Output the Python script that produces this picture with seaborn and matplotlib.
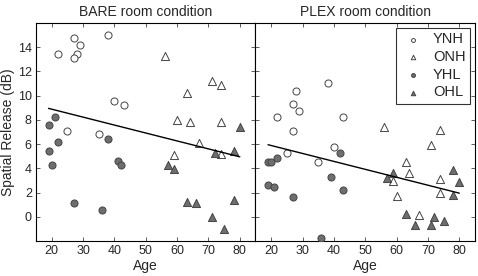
import pandas as pd
import seaborn as sns
import matplotlib.pyplot as plt

# BARE room condition
bare_ynh_age = [22, 27, 29, 28, 27, 38, 40, 43, 25, 35]
bare_ynh_val = [13.4, 14.8, 14.2, 13.4, 13.1, 15.0, 9.6, 9.2, 7.1, 6.8]
bare_onh_age = [56, 63, 71, 74, 60, 64, 74, 59, 67, 74]
bare_onh_val = [13.3, 10.2, 11.2, 10.85, 8.0, 7.8, 7.8, 5.1, 6.1, 5.15]
bare_yhl_age = [19, 21, 38, 19, 20, 22, 27, 36, 41, 42]
bare_yhl_val = [7.6, 8.2, 6.4, 5.4, 4.3, 6.15, 1.1, 0.55, 4.6, 4.3]
bare_ohl_age = [80, 57, 59, 63, 66, 71, 75, 78, 72, 78]
bare_ohl_val = [7.4, 4.25, 3.95, 1.25, 1.1, 0.0, -1.05, 1.4, 5.3, 5.4]
bare_fit_x = [19, 80]
bare_fit_y = [8.95, 4.95]

# PLEX room condition
plex_ynh_age = [22, 27, 28, 29, 27, 38, 43, 25, 35, 40]
plex_ynh_val = [8.2, 9.3, 10.4, 8.7, 7.05, 11.05, 8.2, 5.3, 4.5, 5.8]
plex_onh_age = [56, 74, 71, 63, 64, 59, 60, 74, 74, 67]
plex_onh_val = [7.4, 7.2, 5.9, 4.5, 3.6, 2.95, 1.75, 3.15, 1.95, 0.15]
plex_yhl_age = [19, 20, 22, 19, 21, 27, 42, 39, 43, 36]
plex_yhl_val = [4.55, 4.55, 4.85, 2.6, 2.5, 1.6, 5.25, 3.25, 2.2, -1.75]
plex_ohl_age = [59, 57, 78, 80, 78, 63, 66, 72, 71, 75]
plex_ohl_val = [3.65, 3.2, 3.85, 2.85, 1.8, 0.2, -0.7, 0.0, -0.7, -0.35]
plex_fit_x = [19, 80]
plex_fit_y = [5.95, 1.95]

groups = ["YNH", "ONH", "YHL", "OHL"]

sns.set_theme(style="white")
plt.rcParams["font.family"] = ["Liberation Sans", "DejaVu Sans"]


def make_frame(ynh_a, ynh_v, onh_a, onh_v, yhl_a, yhl_v, ohl_a, ohl_v):
    parts = []
    for g, a, v in zip(groups, [ynh_a, onh_a, yhl_a, ohl_a], [ynh_v, onh_v, yhl_v, ohl_v]):
        parts.append(pd.DataFrame({"Age": a, "Release": v, "Group": g}))
    return pd.concat(parts, ignore_index=True)


bare = make_frame(bare_ynh_age, bare_ynh_val, bare_onh_age, bare_onh_val,
                  bare_yhl_age, bare_yhl_val, bare_ohl_age, bare_ohl_val)
plex = make_frame(plex_ynh_age, plex_ynh_val, plex_onh_age, plex_onh_val,
                  plex_yhl_age, plex_yhl_val, plex_ohl_age, plex_ohl_val)

# marker, face colour, size for each group
styles = {
    "YNH": ("o", "white", 26),
    "ONH": ("^", "white", 34),
    "YHL": ("o", "#6e6e6e", 26),
    "OHL": ("^", "#6e6e6e", 34),
}

fig, axes = plt.subplots(1, 2, figsize=(4.78, 2.76), dpi=100, sharey=True)
fig.subplots_adjust(left=0.0753, right=0.9937, top=0.9167, bottom=0.1268, wspace=0)

panels = [(bare, bare_fit_x, bare_fit_y, "BARE room condition"),
          (plex, plex_fit_x, plex_fit_y, "PLEX room condition")]

for ax, (df, fx, fy, title) in zip(axes, panels):
    for g in groups:
        m, fc, s = styles[g]
        sns.scatterplot(data=df[df["Group"] == g], x="Age", y="Release", ax=ax,
                        marker=m, color=fc, edgecolor="#444444", linewidth=0.7,
                        s=s, label=g, zorder=3)
    sns.lineplot(x=fx, y=fy, ax=ax, color="black", linewidth=1.0, zorder=4)
    ax.set_xlim(15, 85)
    ax.set_ylim(-2, 16)
    ax.set_xticks([20, 30, 40, 50, 60, 70, 80])
    ax.set_yticks([0, 2, 4, 6, 8, 10, 12, 14])
    ax.tick_params(direction="in", top=True, right=True, left=True, bottom=True,
                   length=3, width=0.6, color="#444444", labelsize=9, pad=3)
    for sp in ax.spines.values():
        sp.set_color("black")
        sp.set_linewidth(0.8)
    ax.set_title(title, fontsize=10, pad=5)
    ax.set_xlabel("Age", fontsize=10, labelpad=1)
    ax.get_legend().remove()

axes[0].set_ylabel("Spatial Release (dB)", fontsize=10, labelpad=2)
axes[1].set_ylabel("")
axes[1].tick_params(labelleft=False)

handles, labels = axes[1].get_legend_handles_labels()
leg = axes[1].legend(handles[:4], labels[:4], loc="upper right", fontsize=10.5,
                     frameon=True, fancybox=False, edgecolor="black",
                     markerscale=0.55, handletextpad=0.5, borderpad=0.3,
                     labelspacing=0.25, borderaxespad=0.35, handlelength=1.7)
leg.get_frame().set_linewidth(0.8)

plt.savefig("out.png", dpi=100)
